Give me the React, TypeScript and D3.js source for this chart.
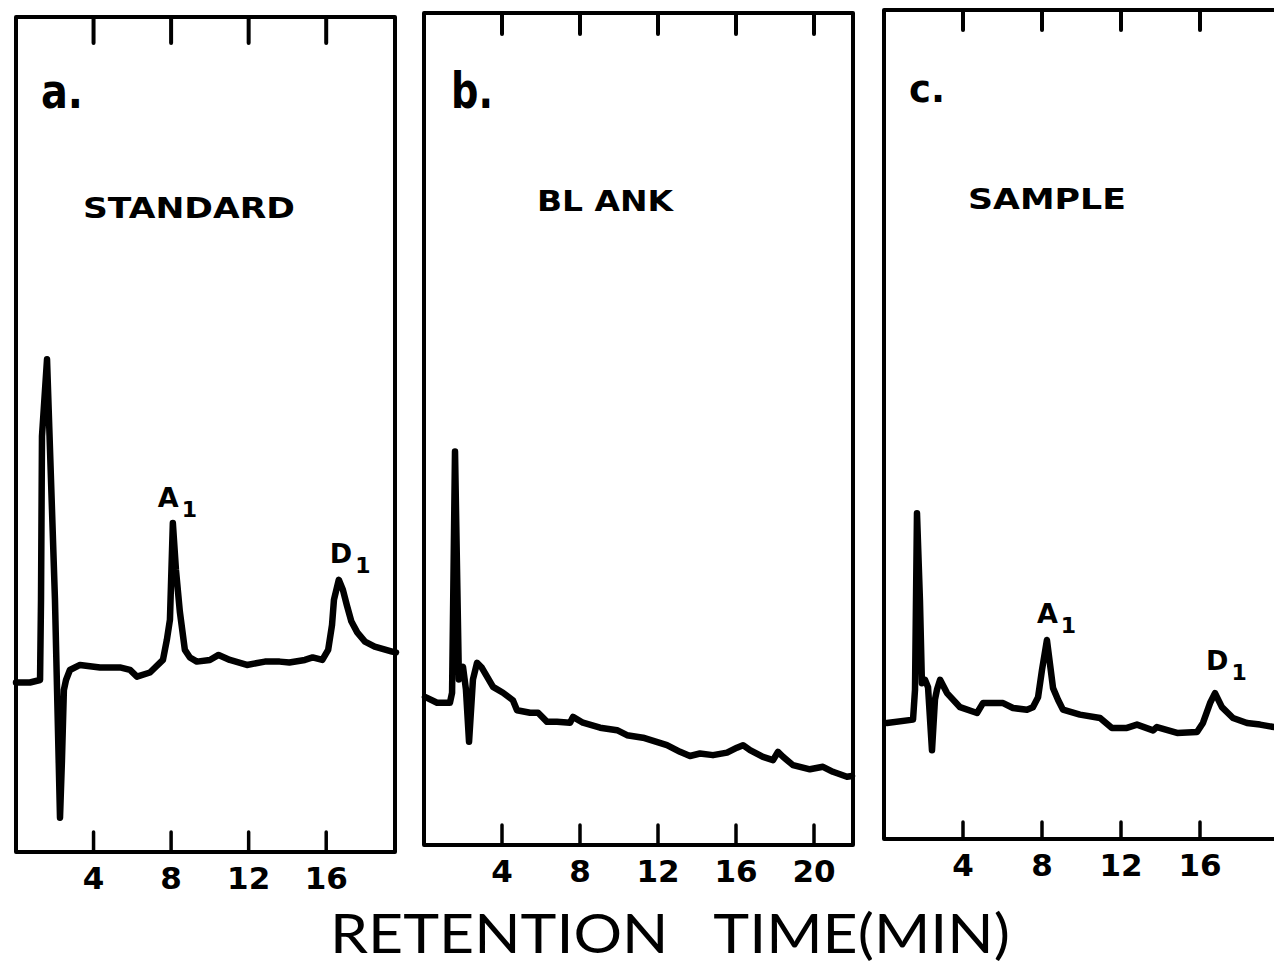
import React from "react";
import * as d3 from "d3";

// ---- Data (time in minutes, detector response in % of full scale) ----
const timeA = [0, 0.72, 1.24, 1.29, 1.34, 1.6, 2.01, 2.27, 2.37, 2.47, 2.58, 2.78, 3.3, 4.33, 5.36, 5.88, 6.24, 6.91, 7.58, 7.78, 7.94, 8.09, 8.25, 8.45, 8.71, 8.97, 9.33, 10.0, 10.45, 11.03, 11.91, 12.84, 13.6, 14.1, 14.9, 15.3, 15.8, 16.1, 16.3, 16.4, 16.65, 16.86, 17.06, 17.3, 17.6, 18.0, 18.5, 19.4, 19.6];
const respA = [20.3, 20.3, 20.6, 30.2, 49.8, 59.0, 30.2, 4.1, 11.0, 19.4, 20.6, 21.8, 22.4, 22.1, 22.1, 21.8, 21.0, 21.5, 23.0, 25.4, 27.8, 39.4, 33.8, 28.8, 24.2, 23.3, 22.8, 23.0, 23.6, 23.0, 22.4, 22.8, 22.8, 22.7, 23.0, 23.3, 23.0, 24.2, 27.2, 30.2, 32.6, 31.4, 29.6, 27.6, 26.3, 25.2, 24.6, 24.0, 23.9];

const timeB = [0.05, 0.67, 1.33, 1.44, 1.59, 1.79, 2.0, 2.15, 2.31, 2.51, 2.72, 2.97, 3.54, 4.05, 4.56, 4.77, 5.44, 5.85, 6.31, 6.82, 7.49, 7.64, 8.15, 9.03, 9.9, 10.41, 11.23, 12.46, 13.13, 13.64, 14.15, 14.82, 15.54, 16.05, 16.36, 16.72, 17.38, 17.9, 18.15, 18.41, 18.92, 19.79, 20.46, 20.97, 21.69, 21.95];
const respB = [17.8, 17.1, 17.1, 18.3, 47.3, 19.9, 21.4, 18.7, 12.4, 19.9, 21.9, 21.3, 19.0, 18.3, 17.4, 16.2, 15.9, 15.9, 14.8, 14.8, 14.7, 15.4, 14.7, 14.1, 13.8, 13.2, 12.9, 12.0, 11.2, 10.7, 11.0, 10.8, 11.1, 11.7, 12.0, 11.4, 10.6, 10.2, 11.2, 10.6, 9.6, 9.1, 9.4, 8.8, 8.2, 8.3];

const timeC = [0.15, 1.47, 1.57, 1.67, 1.82, 1.92, 2.08, 2.23, 2.43, 2.58, 2.68, 2.84, 3.19, 3.85, 4.71, 5.01, 6.03, 6.53, 7.24, 7.54, 7.8, 8.0, 8.25, 8.41, 8.56, 8.81, 9.06, 9.92, 10.94, 11.54, 12.3, 12.81, 13.62, 13.82, 14.84, 15.85, 16.15, 16.51, 16.76, 17.11, 17.67, 18.38, 19.04, 19.75];
const respC = [14.0, 14.4, 18.0, 39.3, 28.8, 18.8, 19.2, 18.3, 10.7, 16.8, 18.0, 19.2, 17.6, 15.9, 15.2, 16.4, 16.4, 15.8, 15.6, 15.9, 17.1, 20.4, 24.0, 21.0, 18.2, 16.8, 15.6, 15.0, 14.6, 13.4, 13.4, 13.8, 13.1, 13.5, 12.8, 12.9, 14.0, 16.4, 17.6, 15.9, 14.6, 14.0, 13.8, 13.5];

const ticksAC = [4, 8, 12, 16];
const ticksB = [4, 8, 12, 16, 20];
const panelLetters = ["a.", "b.", "c."];
const panelTitles = ["STANDARD", "BL ANK", "SAMPLE"];
const axisTitle = "RETENTION   TIME(MIN)";

type Peak = { name: string; sub: string; t: number; r: number };
const peaksA: Peak[] = [
  { name: "A", sub: "1", t: 8.09, r: 39.4 },
  { name: "D", sub: "1", t: 16.65, r: 32.6 },
];
const peaksC: Peak[] = [
  { name: "A", sub: "1", t: 8.25, r: 24.0 },
  { name: "D", sub: "1", t: 16.76, r: 17.6 },
];

const FONT = "'DejaVu Sans', 'Liberation Sans', sans-serif";

type PanelCfg = {
  left: number; right: number; top: number; bottom: number; frameRight: number;
  tMax: number; time: number[]; resp: number[]; ticks: number[];
  topTick: number; botTick: number;
  letter: string; letterX: number; letterY: number; letterSize: number; letterLen: number;
  title: string; titleX: number; titleY: number; titleLen: number;
  peaks: Peak[]; peakDx: number[]; peakDy: number[];
};

const panels: PanelCfg[] = [
  {
    left: 16, right: 396, top: 17, bottom: 852, frameRight: 395, tMax: 19.6,
    time: timeA, resp: respA, ticks: ticksAC, topTick: 26, botTick: 20,
    letter: panelLetters[0], letterX: 41, letterY: 108, letterSize: 48, letterLen: 42,
    title: panelTitles[0], titleX: 83, titleY: 218, titleLen: 212,
    peaks: peaksA, peakDx: [-15, -9], peakDy: [-16, -17],
  },
  {
    left: 424, right: 853, top: 13, bottom: 845, frameRight: 853, tMax: 22,
    time: timeB, resp: respB, ticks: ticksB, topTick: 21, botTick: 20,
    letter: panelLetters[1], letterX: 451, letterY: 108, letterSize: 50, letterLen: 42,
    title: panelTitles[1], titleX: 537, titleY: 211, titleLen: 136,
    peaks: [], peakDx: [], peakDy: [],
  },
  {
    left: 884, right: 1279, top: 10, bottom: 839, frameRight: 1300, tMax: 20,
    time: timeC, resp: respC, ticks: ticksAC, topTick: 20, botTick: 17,
    letter: panelLetters[2], letterX: 909, letterY: 102, letterSize: 38, letterLen: 36,
    title: panelTitles[2], titleX: 968, titleY: 209, titleLen: 158,
    peaks: peaksC, peakDx: [-10, -9], peakDy: [-17, -23],
  },
];

function Panel({ p }: { p: PanelCfg }) {
  const x = d3.scaleLinear().domain([0, p.tMax]).range([p.left, p.right]);
  const y = d3.scaleLinear().domain([0, 100]).range([p.bottom, p.top]);
  const pts: [number, number][] = p.time.map((t, i) => [t, p.resp[i]]);
  const line = d3
    .line<[number, number]>()
    .x((d) => x(d[0]))
    .y((d) => y(d[1]))
    .curve(d3.curveLinear);
  return (
    <g>
      <rect
        x={p.left}
        y={p.top}
        width={p.frameRight - p.left}
        height={p.bottom - p.top}
        fill="none"
        stroke="#000"
        strokeWidth={4}
        strokeLinejoin="round"
      />
      {p.ticks.map((t) => (
        <g key={t}>
          <line x1={x(t)} x2={x(t)} y1={p.top} y2={p.top + p.topTick} stroke="#000" strokeWidth={4} strokeLinecap="round" />
          <line x1={x(t)} x2={x(t)} y1={p.bottom} y2={p.bottom - p.botTick} stroke="#000" strokeWidth={3.5} strokeLinecap="round" />
          <text
            x={x(t)}
            y={p.bottom + 37}
            textAnchor="middle"
            fontFamily={FONT}
            fontWeight="bold"
            fontSize={31}
          >
            {t}
          </text>
        </g>
      ))}
      <path d={line(pts) || ""} fill="none" stroke="#000" strokeWidth={6.5} strokeLinejoin="round" strokeLinecap="round" />
      <text x={p.letterX} y={p.letterY} fontFamily={FONT} fontWeight="bold" fontSize={p.letterSize} textLength={p.letterLen} lengthAdjust="spacingAndGlyphs">
        {p.letter}
      </text>
      <text x={p.titleX} y={p.titleY} fontFamily={FONT} fontWeight="bold" fontSize={29} textLength={p.titleLen} lengthAdjust="spacingAndGlyphs">
        {p.title}
      </text>
      {p.peaks.map((pk, i) => (
        <text
          key={pk.name}
          x={x(pk.t) + p.peakDx[i]}
          y={y(pk.r) + p.peakDy[i]}
          fontFamily={FONT}
          fontWeight="bold"
          fontSize={27}
        >
          {pk.name}
          <tspan fontSize={22} dx={3} dy={10}>
            {pk.sub}
          </tspan>
        </text>
      ))}
    </g>
  );
}

export default function App() {
  return (
    <svg
      width={1274}
      height={966}
      viewBox="0 0 1274 966"
      style={{ position: "absolute", left: 0, top: 0, background: "#fff" }}
    >
      <rect x={0} y={0} width={1274} height={966} fill="#fff" />
      {panels.map((p, i) => (
        <Panel key={i} p={p} />
      ))}
      <text
        x={330}
        y={953}
        fontFamily="'Lato', 'DejaVu Sans', sans-serif"
        fontWeight={400}
        fontSize={54}
        textLength={680}
        lengthAdjust="spacingAndGlyphs"
        style={{ whiteSpace: "pre" }}
      >
        {axisTitle}
      </text>
    </svg>
  );
}
